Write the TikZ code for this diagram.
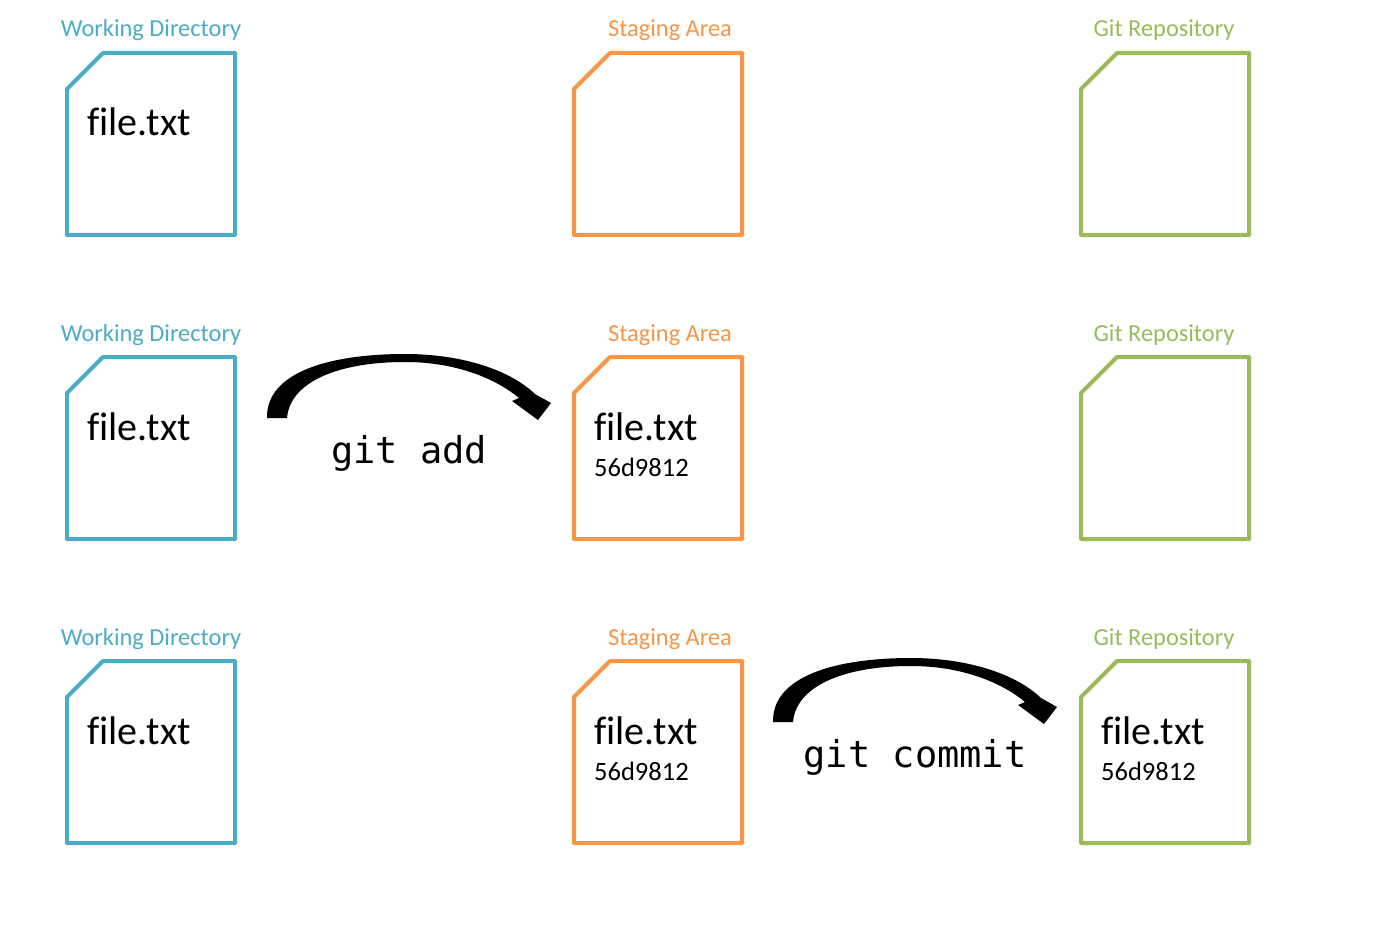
\documentclass[tikz,border=0pt]{standalone}
\usepackage{fontspec}
\setmainfont{Carlito}[Ligatures=NoCommon]
\newfontfamily\codefont{DejaVu Sans Mono}
\definecolor{wdblue}{RGB}{75,172,198}
\definecolor{saorange}{RGB}{247,150,70}
\definecolor{grgreen}{RGB}{155,187,89}
\tikzset{
  docbox/.style={line width=4pt, line join=round},
  arealabel/.style={anchor=base, inner sep=0pt, font=\fontsize{24.4}{28}\selectfont},
  fname/.style={anchor=base west, inner sep=0pt, font=\fontsize{40}{46}\selectfont},
  hash/.style={anchor=base west, inner sep=0pt, font=\fontsize{26.5}{31}\selectfont},
  cmd/.style={anchor=base, inner sep=0pt, font=\codefont\fontsize{37}{42}\selectfont},
}
\newcommand{\docshape}[3]{% x, y(top), color
  \draw[docbox,#3] (#1,#2+36) -- (#1+36,#2) -- (#1+168,#2) -- (#1+168,#2+182) -- (#1,#2+182) -- cycle;}
\newcommand{\bigarrow}[3]{% dx, dy, name
  \begin{scope}[shift={(#1,#2)}]
    \coordinate (#3-start) at (277,418);
    \coordinate (#3-end) at (537,418);
    \fill[black] (267,418) .. controls (266,372) and (330,354) .. (405,354)
      .. controls (462,354) and (510,370) .. (535,394)
      -- (551,403) -- (538,420) -- (512,401) -- (519,398)
      .. controls (495,378) and (455,362) .. (405,362)
      .. controls (338,362) and (290,382) .. (287,418) -- cycle;
  \end{scope}}
\begin{document}
\begin{tikzpicture}[x=1pt,y=-1pt]
\useasboundingbox[fill=white] (0,0) rectangle (1397,925);
% row labels and boxes
\foreach \r/\dy in {1/0,2/304,3/608}{
  \node[arealabel,text=wdblue] (wd\r) at (151,37+\dy) {Working Directory};
  \node[arealabel,text=saorange] (sa\r) at (670,37+\dy) {Staging Area};
  \node[arealabel,text=grgreen] (gr\r) at (1164,37+\dy) {Git Repository};
  \docshape{67}{53+\dy}{wdblue}
  \docshape{574}{53+\dy}{saorange}
  \docshape{1081}{53+\dy}{grgreen}
  \node[fname] (wf\r) at (87,136+\dy) {file.txt};
}
% staging contents
\node[fname] (sf2) at (594,440) {file.txt};
\node[hash] (sh2) at (594,476) {56d9812};
\node[fname] (sf3) at (594,744) {file.txt};
\node[hash] (sh3) at (594,780) {56d9812};
% repository contents
\node[fname] (rf3) at (1101,744) {file.txt};
\node[hash] (rh3) at (1101,780) {56d9812};
% arrows
\bigarrow{0}{0}{addarrow}
\node[cmd] (gitadd) at (409,463) {git add};
\bigarrow{506}{304}{commitarrow}
\node[cmd] (gitcommit) at (915,767) {git commit};
\end{tikzpicture}
\end{document}
